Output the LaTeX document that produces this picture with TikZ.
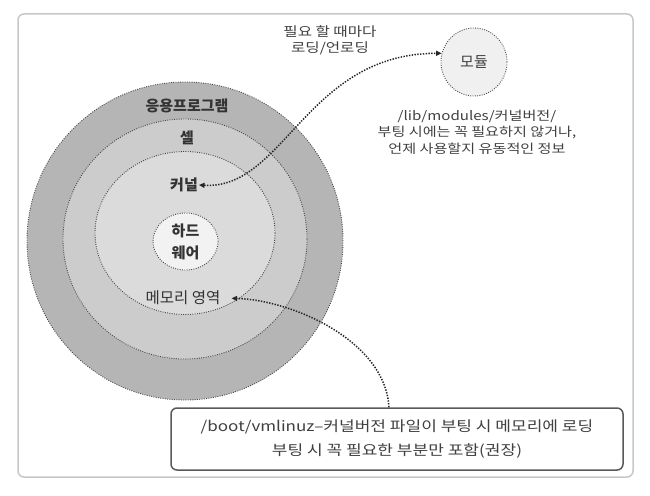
\documentclass[tikz,border=0pt]{standalone}
\usepackage{fontspec}
\newfontfamily\kr{Noto Sans CJK KR}
\newfontfamily\krw{Noto Sans CJK KR}[FakeStretch=1.2]
\usetikzlibrary{positioning, arrows.meta, shapes.geometric}

\begin{document}
\begin{tikzpicture}[
  x=1pt, y=-1pt, font=\kr,
  >={Triangle[length=5.5pt,width=5pt]},
  ring/.style={ellipse, draw=black!72, dash pattern=on 0.9pt off 1.4pt,
               line width=0.9pt, inner sep=0pt},
  lbl/.style={font=\kr\bfseries\fontsize{15}{22}\selectfont, text=black!80,
              inner sep=1pt, align=center},
  note/.style={font=\krw\fontsize{12.6}{16.5}\selectfont, text=black!75, align=center},
  darr/.style={draw=black!85, line width=1.5pt, dash pattern=on 1.4pt off 1.4pt}
]
\useasboundingbox (0,0) rectangle (650,495);
\draw[draw=black!22, line width=1.5pt, rounded corners=6pt] (18,14) rectangle (633,477);

\node[ring, fill=black!29, minimum width=316pt, minimum height=318pt] (apps) at (185,241) {};
\node[ring, fill=black!20, minimum width=244pt, minimum height=240pt] (shell) at (185,239) {};
\node[ring, fill=black!14, minimum width=180pt, minimum height=163pt] (kernel) at (185,233) {};
\node[ring, lbl, fill=black!5, minimum width=65pt, minimum height=57pt] (hw) at (185.5,241.5) {하드\\웨어};

\node[lbl] (applbl) at (187,106) {응용프로그램};
\node[lbl] (shelllbl) at (187,138) {셀};
\node[lbl] (kernellbl) at (184,185) {커널};
\node[font=\kr\fontsize{15.5}{18}\selectfont, text=black!80, inner sep=1pt] (memlbl) at (183,298) {메모리 영역};

\node[ring, fill=black!6, minimum width=66pt, minimum height=68pt,
      font=\kr\fontsize{15}{18}\selectfont, text=black!75] (module) at (474,62) {모듈};
\node[note] (moddesc) at (477,132)
  {/lib/modules/커널버전/\\부팅 시에는 꼭 필요하지 않거나,\\언제 사용할지 유동적인 정보};
\node[note, font=\krw\fontsize{13}{16}\selectfont] (loadlbl) at (330,40) {필요 할 때마다\\로딩/언로딩};

\node[draw=black!65, line width=1.5pt, rounded corners=6pt, fill=white,
      minimum width=452pt, minimum height=62pt, align=center,
      font=\krw\fontsize{14.2}{24}\selectfont, text=black!75] (bootbox) at (397,439)
  {/boot/vmlinuz–커널버전 파일이 부팅 시 메모리에 로딩\\부팅 시 꼭 필요한 부분만 포함(권장)};

\draw[darr, <->] (kernellbl.east) .. controls +(85,5) and +(-135,0) .. (module.165);
\draw[darr, ->, shorten >=10pt] ([xshift=-8pt]bootbox.north) .. controls +(-4,-67) and +(70,2) .. (memlbl.east);
\end{tikzpicture}
\end{document}
